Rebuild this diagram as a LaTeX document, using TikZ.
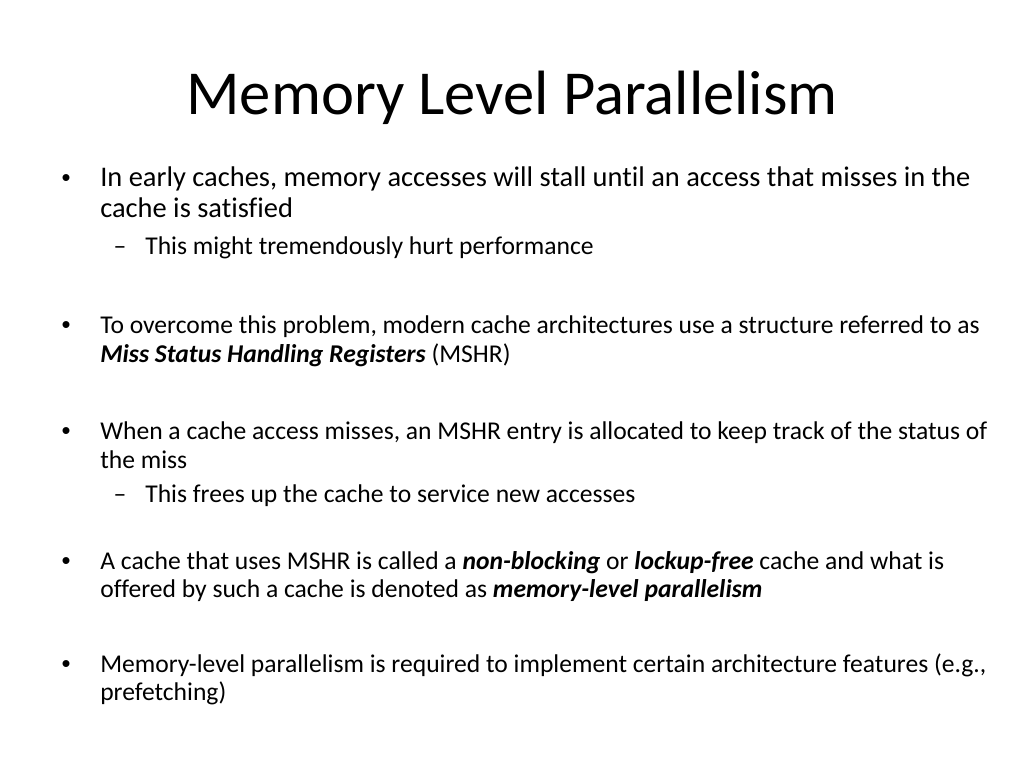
\documentclass[tikz,border=0pt]{standalone}
\usepackage{fontspec}
\setmainfont[Ligatures=NoCommon]{Carlito}
\newfontfamily\bulfont{Liberation Sans}
\tikzset{
  body/.style={anchor=base west,inner sep=0pt,font=\fontsize{18}{22}\selectfont},
  big/.style={body,font=\fontsize{20}{24}\selectfont},
  bul/.style={anchor=base,inner sep=0pt,font=\bulfont\fontsize{18}{22}\selectfont},
  dsh/.style={anchor=base,inner sep=0pt,font=\fontsize{18}{22}\selectfont},
}
\newcommand{\bi}[1]{\textbf{\textit{#1}}}
\begin{document}
\begin{tikzpicture}[x=0.703125pt,y=-0.703125pt]
\useasboundingbox (0,0) rectangle (1024,768);
\node[anchor=base,inner sep=0pt,font=\fontsize{44}{50}\selectfont] (T) at (512,115) {Memory Level Parallelism};
\node[bul] (D1) at (66,187) {\textbullet};
\node[big] (B1a) at (100,187) {In early caches, memory accesses will stall until an access that misses in the};
\node[big] (B1b) at (100,218) {cache is satisfied};
\node[dsh] (S1) at (120,255) {\textendash};
\node[body] (S1a) at (145,255) {This might tremendously hurt performance};
\node[bul] (D2) at (66,333) {\textbullet};
\node[body] (B2a) at (100,333) {To overcome this problem, modern cache architectures use a structure referred to as};
\node[body] (B2b) at (100,362) {\bi{Miss Status Handling Registers} (MSHR)};
\node[bul] (D3) at (66,439) {\textbullet};
\node[body] (B3a) at (100,439) {When a cache access misses, an MSHR entry is allocated to keep track of the status of};
\node[body] (B3b) at (100,468) {the miss};
\node[dsh] (S3) at (120,502) {\textendash};
\node[body] (S3a) at (145,502) {This frees up the cache to service new accesses};
\node[bul] (D4) at (66,569) {\textbullet};
\node[body] (B4a) at (100,569) {A cache that uses MSHR is called a \bi{non-blocking} or \bi{lockup-free} cache and what is};
\node[body] (B4b) at (100,597) {offered by such a cache is denoted as \bi{memory-level parallelism}};
\node[bul] (D5) at (66,672) {\textbullet};
\node[body] (B5a) at (100,672) {Memory-level parallelism is required to implement certain architecture features (e.g.,};
\node[body] (B5b) at (100,700) {prefetching)};
\end{tikzpicture}
\end{document}
